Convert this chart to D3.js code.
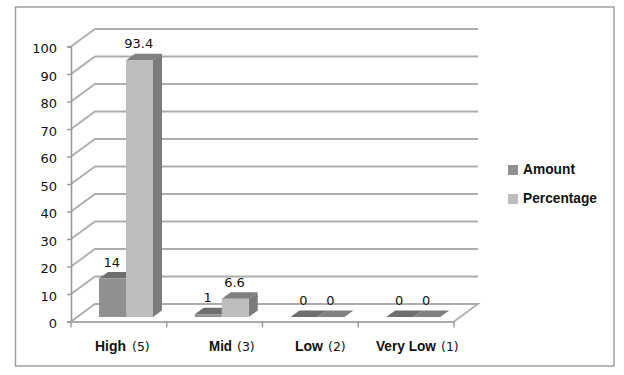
<!DOCTYPE html>
<html>
<head>
<meta charset="utf-8">
<script src="https://cdn.jsdelivr.net/npm/d3@7"></script>
<style>
  html, body { margin: 0; padding: 0; background: #fff; }
  text { fill: #111; }
</style>
</head>
<body>
<div id="chart"></div>
<script>
const categories = ["High", "Mid", "Low", "Very Low"];
const categoryNotes = ["(5)", "(3)", "(2)", "(1)"];
const seriesNames = ["Amount", "Percentage"];
const amount = [14, 1, 0, 0];
const percentage = [93.4, 6.6, 0, 0];
const yTicks = [0, 10, 20, 30, 40, 50, 60, 70, 80, 90, 100];

const width = 624,
  height = 375;
// oblique offset of the back wall and of the bar depth
const wallDx = 24,
  wallDy = -17.5,
  barDx = 9,
  barDy = -6.5;

const svg = d3
  .select("#chart")
  .append("svg")
  .attr("width", width)
  .attr("height", height)
  .style("display", "block");

// frame
svg
  .append("rect")
  .attr("x", 15.5)
  .attr("y", 7)
  .attr("width", 598.5)
  .attr("height", 359)
  .attr("fill", "#fff")
  .attr("stroke", "#999")
  .attr("stroke-width", 1.4);

const y = d3.scaleLinear().domain([0, 100]).range([321.5, 46.5]);
const x = d3.scaleBand().domain(categories).range([71, 454]);
const barW = 27;
const barBase = 317;

// gridlines: side wall + back wall
const grid = svg.append("g").attr("fill", "none").attr("stroke", "#adadad").attr("stroke-width", 1.8);
grid
  .selectAll("polyline")
  .data(yTicks)
  .join("polyline")
  .attr("points", (d) => {
    const yy = y(d);
    if (d === 0) {
      return [[71, yy], [71 + wallDx, yy + wallDy], [454 + wallDx, yy + wallDy], [454, yy]].join(" ");
    }
    return [[71, yy], [71 + wallDx, yy + wallDy], [454 + wallDx, yy + wallDy]].join(" ");
  });

// y axis
const yAxis = svg
  .append("g")
  .attr("transform", "translate(71,0)")
  .call(d3.axisLeft(y).tickValues(yTicks).tickSize(4).tickPadding(10));
yAxis.select(".domain").attr("stroke", "#999").attr("stroke-width", 1.6);
yAxis.selectAll("line").attr("stroke", "#999").attr("stroke-width", 1.4);
yAxis
  .selectAll("text")
  .attr("dy", "0.47em")
  .attr("font-family", "DejaVu Sans")
  .attr("font-size", 13)
  .attr("fill", "#222");

// x axis
const xAxis = svg
  .append("g")
  .attr("transform", `translate(0,${y(0)})`)
  .call(d3.axisBottom(x).tickSize(0).tickFormat(""));
xAxis.select(".domain").attr("stroke", "#aaa").attr("stroke-width", 1.8);
xAxis
  .selectAll(".sep")
  .data([...categories.map((c) => x(c)), 454])
  .join("line")
  .attr("class", "sep")
  .attr("x1", (d) => d)
  .attr("x2", (d) => d)
  .attr("y1", 0)
  .attr("y2", 6)
  .attr("stroke", "#999")
  .attr("stroke-width", 1.4);

// category labels, the font is squeezed to look like a narrow bold
const labelX = [95, 209, 295, 376];
const labelW = [31, 23, 28, 60];
const noteX = [132, 237, 328, 441];
svg
  .selectAll(".cat")
  .data(categories)
  .join("text")
  .attr("class", "cat")
  .attr("x", (d, i) => labelX[i])
  .attr("y", 351)
  .attr("font-family", "Liberation Sans")
  .attr("font-weight", "bold")
  .attr("font-size", 14)
  .attr("textLength", (d, i) => labelW[i])
  .attr("lengthAdjust", "spacingAndGlyphs")
  .text((d) => d);
svg
  .selectAll(".note")
  .data(categoryNotes)
  .join("text")
  .attr("class", "note")
  .attr("x", (d, i) => noteX[i])
  .attr("y", 351)
  .attr("font-family", "DejaVu Sans")
  .attr("font-size", 12.5)
  .attr("fill", "#333")
  .text((d) => d);

// bars
const seriesColors = [
  { front: "#909090", top: "#6e6e6e", side: "#6a6a6a" },
  { front: "#bdbdbd", top: "#808080", side: "#7b7b7b" },
];
const seriesValues = [amount, percentage];
const hPerUnit = y(0) - y(1);

seriesValues.forEach((values, s) => {
  const c = seriesColors[s];
  const g = svg.append("g").attr("class", "series-" + s);
  const xx = (i) => x(categories[i]) + 28 + s * barW;
  const yy = (v) => barBase - v * hPerUnit;
  values.forEach((v, i) => {
    const x0 = xx(i),
      x1 = x0 + barW,
      yt = yy(v);
    g.append("polygon")
      .attr("points", [[x0, yt], [x0 + barDx, yt + barDy], [x1 + barDx, yt + barDy], [x1, yt]].join(" "))
      .attr("fill", c.top);
    g.append("polygon")
      .attr("points", [[x1, yt], [x1 + barDx, yt + barDy], [x1 + barDx, barBase + barDy], [x1, barBase]].join(" "))
      .attr("fill", c.side);
    g.append("rect")
      .attr("x", x0)
      .attr("y", yt)
      .attr("width", barW)
      .attr("height", barBase - yt)
      .attr("fill", c.front);
    g.append("text")
      .attr("x", x0 + barW / 2 - 0.7)
      .attr("y", yt - 12)
      .attr("text-anchor", "middle")
      .attr("font-family", "DejaVu Sans")
      .attr("font-size", 13)
      .attr("fill", "#222")
      .text(v);
  });
});

// legend
const legendY = [165, 194];
const legendTextY = [174, 203];
const legendW = [52, 74];
const legend = svg
  .selectAll(".legend")
  .data(seriesNames)
  .join("g")
  .attr("class", "legend");
legend
  .append("rect")
  .attr("x", 508)
  .attr("y", (d, i) => legendY[i])
  .attr("width", 10)
  .attr("height", 10)
  .attr("fill", (d, i) => seriesColors[i].front);
legend
  .append("text")
  .attr("x", 523)
  .attr("y", (d, i) => legendTextY[i])
  .attr("font-family", "Liberation Sans")
  .attr("font-weight", "bold")
  .attr("font-size", 14.5)
  .attr("textLength", (d, i) => legendW[i])
  .attr("lengthAdjust", "spacingAndGlyphs")
  .text((d) => d);
</script>
</body>
</html>
